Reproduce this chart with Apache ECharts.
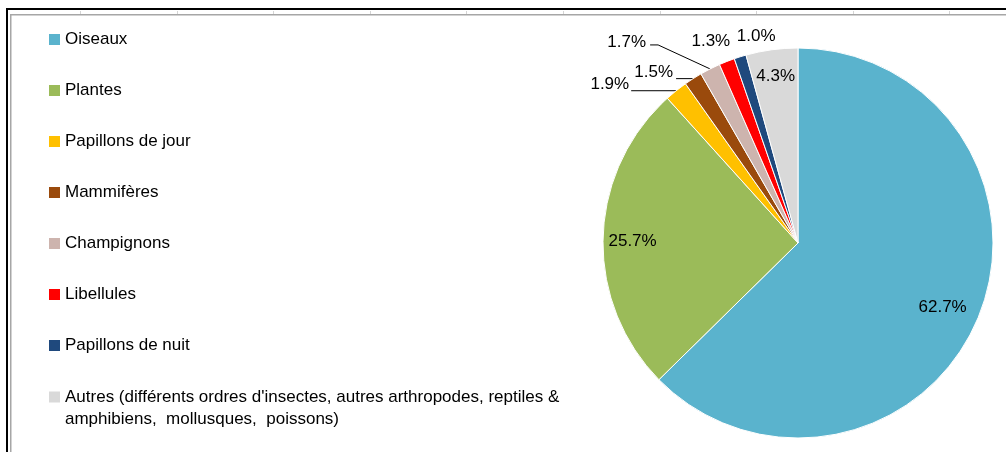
<!DOCTYPE html>
<html>
<head>
<meta charset="utf-8">
<script src="https://cdn.jsdelivr.net/npm/echarts@6/dist/echarts.min.js"></script>
<style>
html,body{margin:0;padding:0;background:#fff;}
#c{width:1006px;height:452px;}
</style>
</head>
<body>
<div id="c"></div>
<script>
const categories = ['Oiseaux', 'Plantes', 'Papillons de jour', 'Mammifères', 'Champignons', 'Libellules', 'Papillons de nuit',
  "Autres (différents ordres d'insectes, autres arthropodes, reptiles & amphibiens,  mollusques,  poissons)"];
const values = [62.7, 25.7, 1.9, 1.5, 1.7, 1.3, 1.0, 4.3];
const colors = ['#5AB3CD', '#9BBB59', '#FFC000', '#9A4A0C', '#CDB4AE', '#FF0000', '#1F497D', '#D9D9D9'];
const insideLabelIdx = [0, 1, 7];

const CX = 798, CY = 243, R = 195;
const FONT = 'Liberation Sans, Arial, sans-serif';

// label placement relative to slice edge point (layout only)
const outsidePlacement = {
  2: { dx: -47, dy: 2, align: 'right', va: 'bottom', line: [[-45, 0]] },
  3: { dx: -20, dy: 2, align: 'right', va: 'bottom', line: [[-17, 0]] },
  4: { dx: -64, dy: -27, align: 'right', va: 'middle', line: [[-52, -24], [-60, -24]] },
  5: { dx: -16, dy: -20, align: 'center', va: 'middle', line: null },
  6: { dx: 16, dy: -20, align: 'center', va: 'middle', line: null }
};
const insideNudge = { 0: [-8, 0], 1: [0, 3], 7: [0, -3] };

const total = values.reduce((a, b) => a + b, 0);
function edgePoint(idx) {
  let cum = 0;
  for (let i = 0; i < idx; i++) cum += values[i];
  const th = (cum + values[idx] / 2) / total * 2 * Math.PI;
  return [CX + R * Math.sin(th), CY - R * Math.cos(th)];
}

const fmt = p => p.value.toFixed(1) + '%';

const mainData = categories.map((n, i) => {
  const hasOut = outsidePlacement[i] !== undefined;
  return {
    name: n,
    value: values[i],
    itemStyle: { color: colors[i] },
    label: { show: hasOut },
    labelLine: { show: hasOut, lineStyle: { opacity: (hasOut && outsidePlacement[i].line) ? 1 : 0 } }
  };
});
const overlayData = categories.map((n, i) => ({
  name: n,
  value: values[i],
  label: { show: insideLabelIdx.indexOf(i) >= 0 }
}));

const chart = echarts.init(document.getElementById('c'), null, { renderer: 'canvas' });

const gridLines = [];
for (let k = 0; k < 10; k++) {
  const x = Math.round(80 + 96.6 * k) + 0.5;
  gridLines.push({ type: 'line', shape: { x1: x, y1: 11, x2: x, y2: 14 }, style: { stroke: '#d4d4d4', lineWidth: 1 }, silent: true });
}

chart.setOption({
  animation: false,
  backgroundColor: '#fff',
  textStyle: { fontFamily: FONT },
  graphic: [
    { type: 'rect', shape: { x: 6, y: 8, width: 1000, height: 2 }, style: { fill: '#000' }, silent: true },
    { type: 'rect', shape: { x: 6, y: 8, width: 2, height: 444 }, style: { fill: '#000' }, silent: true },
    { type: 'rect', shape: { x: 10, y: 14, width: 996, height: 1.5 }, style: { fill: '#a6a6a6' }, silent: true },
    { type: 'rect', shape: { x: 10, y: 14, width: 1.5, height: 438 }, style: { fill: '#a6a6a6' }, silent: true }
  ].concat(gridLines),
  legend: [
    {
      orient: 'vertical',
      left: 49,
      top: 31,
      padding: 0,
      itemGap: 34,
      itemWidth: 11,
      itemHeight: 11,
      icon: 'rect',
      selectedMode: false,
      itemStyle: { borderWidth: 0 },
      data: categories.slice(0, 7),
      textStyle: { fontFamily: FONT, fontSize: 17, color: '#000' }
    },
    {
      orient: 'vertical',
      left: 49,
      top: 364,
      padding: 0,
      itemWidth: 11,
      itemHeight: 11,
      icon: 'rect',
      selectedMode: false,
      itemStyle: { borderWidth: 0 },
      data: categories.slice(7),
      formatter: function (name) {
        return '\n' + name.replace('& ', '&\n');
      },
      textStyle: { fontFamily: FONT, fontSize: 17, color: '#000', lineHeight: 22 }
    }
  ],
  series: [
    {
      type: 'pie',
      center: [CX, CY],
      radius: [0, R],
      startAngle: 90,
      clockwise: true,
      avoidLabelOverlap: false,
      silent: true,
      itemStyle: { borderColor: '#fff', borderWidth: 1 },
      label: {
        position: 'outside',
        formatter: fmt,
        fontFamily: FONT,
        fontSize: 17,
        color: '#000'
      },
      labelLine: { length: 5, length2: 5, lineStyle: { color: '#000', width: 1 } },
      labelLayout: function (p) {
        const cfg = outsidePlacement[p.dataIndex];
        if (!cfg) return {};
        const e = edgePoint(p.dataIndex);
        const out = {
          x: e[0] + cfg.dx,
          y: e[1] + cfg.dy,
          align: cfg.align,
          verticalAlign: cfg.va
        };
        if (cfg.line) {
          out.labelLinePoints = [e].concat(cfg.line.map(d => [e[0] + d[0], e[1] + d[1]]));
        } else {
          out.labelLinePoints = [e, e];
        }
        return out;
      },
      data: mainData
    },
    {
      type: 'pie',
      center: [CX, CY],
      radius: [130, R],
      startAngle: 90,
      clockwise: true,
      silent: true,
      avoidLabelOverlap: false,
      itemStyle: { color: 'rgba(0,0,0,0)', borderWidth: 0 },
      label: {
        position: 'inside',
        formatter: fmt,
        fontFamily: FONT,
        fontSize: 17,
        color: '#000'
      },
      labelLine: { show: false },
      labelLayout: function (p) {
        const n = insideNudge[p.dataIndex];
        return n ? { dx: n[0], dy: n[1] } : {};
      },
      data: overlayData
    }
  ]
});
</script>
</body>
</html>
